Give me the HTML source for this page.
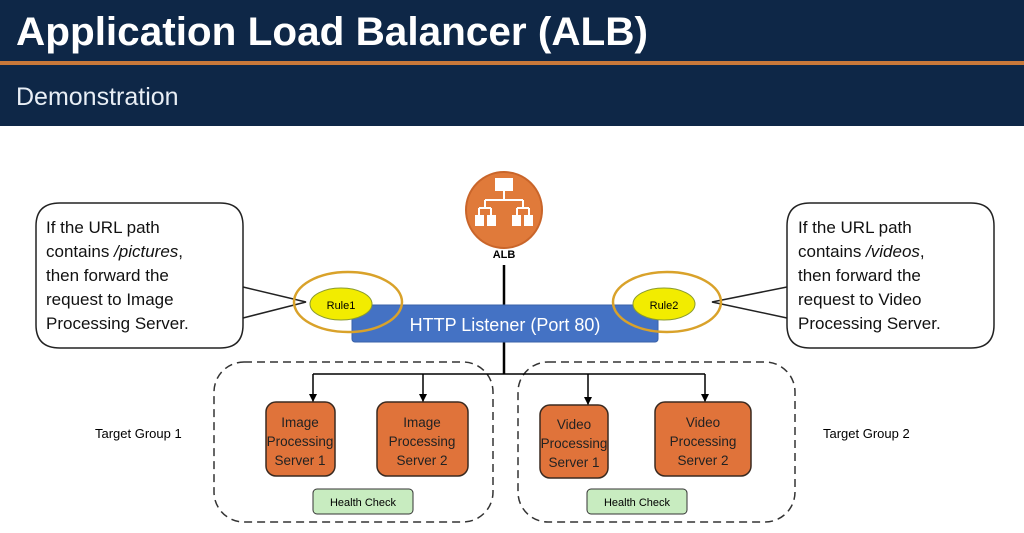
<!DOCTYPE html>
<html><head><meta charset="utf-8"><style>
body{margin:0;width:1024px;height:528px;overflow:hidden;background:#fff;font-family:"Liberation Sans",sans-serif}
</style></head><body>
<svg width="1024" height="528" viewBox="0 0 1024 528" xmlns="http://www.w3.org/2000/svg" font-family="Liberation Sans, sans-serif">
<defs>
<marker id="a" markerWidth="8" markerHeight="8" refX="8" refY="4" orient="auto" markerUnits="userSpaceOnUse"><path d="M0,0 L8,4 L0,8 z" fill="#000"/></marker>
</defs>
<rect x="0" y="0" width="1024" height="126" fill="#0e2747"/>
<rect x="0" y="61" width="1024" height="4" fill="#c8783a"/>
<text x="16" y="45" fill="#fff" font-size="40" font-weight="bold" textLength="632" lengthAdjust="spacingAndGlyphs">Application Load Balancer (ALB)</text>
<text x="16" y="105" fill="#e8eef5" font-size="25">Demonstration</text>

<!-- ALB -->
<circle cx="504" cy="210" r="38" fill="#e07a3a" stroke="#c9652a" stroke-width="2"/>
<g fill="#fff" stroke="#fff" stroke-width="2">
<rect x="495" y="178" width="18" height="13" stroke="none"/>
<line x1="504" y1="191" x2="504" y2="200"/><line x1="485" y1="200" x2="523" y2="200"/>
<line x1="485" y1="200" x2="485" y2="208"/><line x1="523" y1="200" x2="523" y2="208"/>
<line x1="479" y1="208" x2="491" y2="208"/><line x1="517" y1="208" x2="529" y2="208"/>
<line x1="479" y1="208" x2="479" y2="215"/><line x1="491" y1="208" x2="491" y2="215"/><line x1="517" y1="208" x2="517" y2="215"/><line x1="529" y1="208" x2="529" y2="215"/>
<rect x="475" y="215" width="9" height="11" stroke="none"/><rect x="487" y="215" width="9" height="11" stroke="none"/><rect x="512" y="215" width="9" height="11" stroke="none"/><rect x="524" y="215" width="9" height="11" stroke="none"/>
</g>
<text x="504" y="258" font-size="11" text-anchor="middle" font-weight="bold">ALB</text>
<line x1="504" y1="265" x2="504" y2="374" stroke="#000" stroke-width="2.5"/>

<!-- callouts -->
<path d="M60,203 H220 Q243,203 243,226 V325 Q243,348 220,348 H60 Q36,348 36,325 V226 Q36,203 60,203 Z" fill="#fff" stroke="#222" stroke-width="1.5"/>
<polyline points="243,287 306,302 243,318" fill="none" stroke="#222" stroke-width="1.5"/>
<text font-size="17" fill="#111"><tspan x="46" y="233">If the URL path</tspan><tspan x="46" y="257">contains <tspan font-style="italic">/pictures</tspan>,</tspan><tspan x="46" y="281">then forward the</tspan><tspan x="46" y="305">request to Image</tspan><tspan x="46" y="329">Processing Server.</tspan></text>
<path d="M810,203 H971 Q994,203 994,226 V325 Q994,348 971,348 H810 Q787,348 787,325 V226 Q787,203 810,203 Z" fill="#fff" stroke="#222" stroke-width="1.5"/>
<polyline points="787,287 712,302 787,318" fill="none" stroke="#222" stroke-width="1.5"/>
<text font-size="17" fill="#111"><tspan x="798" y="233">If the URL path</tspan><tspan x="798" y="257">contains <tspan font-style="italic">/videos</tspan>,</tspan><tspan x="798" y="281">then forward the</tspan><tspan x="798" y="305">request to Video</tspan><tspan x="798" y="329">Processing Server.</tspan></text>

<!-- listener -->
<rect x="352" y="305" width="306" height="37" rx="3" fill="#4472c4" stroke="#3a62a8"/>
<text x="505" y="331" font-size="18" fill="#fff" text-anchor="middle">HTTP Listener (Port 80)</text>
<ellipse cx="341" cy="304" rx="31" ry="16" fill="#f2ec00" stroke="#8a9a30"/>
<text x="341" y="309" font-size="11" text-anchor="middle">Rule1</text>
<ellipse cx="664" cy="304" rx="31" ry="16" fill="#f2ec00" stroke="#8a9a30"/>
<text x="664" y="309" font-size="11" text-anchor="middle">Rule2</text>
<ellipse cx="348" cy="302" rx="54" ry="30" fill="none" stroke="#d9a22a" stroke-width="2.5"/>
<ellipse cx="667" cy="302" rx="54" ry="30" fill="none" stroke="#d9a22a" stroke-width="2.5"/>

<!-- groups -->
<rect x="214" y="362" width="279" height="160" rx="30" fill="none" stroke="#333" stroke-width="1.5" stroke-dasharray="8,5"/>
<rect x="518" y="362" width="277" height="160" rx="30" fill="none" stroke="#333" stroke-width="1.5" stroke-dasharray="8,5"/>
<line x1="313" y1="374" x2="705" y2="374" stroke="#000" stroke-width="1.5"/>
<g stroke="#000" stroke-width="1.5" marker-end="url(#a)">
<line x1="313" y1="374" x2="313" y2="402"/><line x1="423" y1="374" x2="423" y2="402"/>
<line x1="588" y1="374" x2="588" y2="405"/><line x1="705" y1="374" x2="705" y2="402"/>
</g>
<g fill="#e0733a" stroke="#3a2a20" stroke-width="1.5">
<rect x="266" y="402" width="69" height="74" rx="10"/>
<rect x="377" y="402" width="91" height="74" rx="10"/>
<rect x="540" y="405" width="68" height="73" rx="10"/>
<rect x="655" y="402" width="96" height="74" rx="10"/>
</g>
<g font-size="13.5" fill="#222" text-anchor="middle">
<text x="300" y="427">Image</text><text x="300" y="446">Processing</text><text x="300" y="465">Server 1</text>
<text x="422" y="427">Image</text><text x="422" y="446">Processing</text><text x="422" y="465">Server 2</text>
<text x="574" y="429">Video</text><text x="574" y="448">Processing</text><text x="574" y="467">Server 1</text>
<text x="703" y="427">Video</text><text x="703" y="446">Processing</text><text x="703" y="465">Server 2</text>
</g>
<rect x="313" y="489" width="100" height="25" rx="4" fill="#c8ecc0" stroke="#333"/>
<text x="363" y="506" font-size="11" text-anchor="middle">Health Check</text>
<rect x="587" y="489" width="100" height="25" rx="4" fill="#c8ecc0" stroke="#333"/>
<text x="637" y="506" font-size="11" text-anchor="middle">Health Check</text>
<text x="95" y="438" font-size="13">Target Group 1</text>
<text x="823" y="438" font-size="13">Target Group 2</text>
</svg>
</body></html>
